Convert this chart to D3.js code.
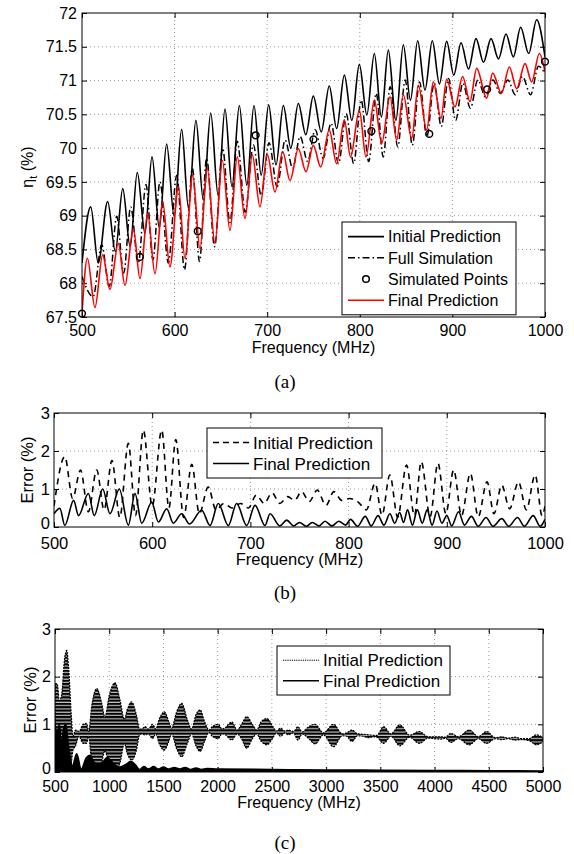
<!DOCTYPE html>
<html>
<head>
<meta charset="utf-8">
<script src="https://cdn.jsdelivr.net/npm/d3@7"></script>
<style>
  html, body { margin: 0; padding: 0; background: #fff; }
  svg { display: block; }
  svg text { font-family: "Liberation Sans", Arial, Helvetica, sans-serif; }
  svg text.cap { font-family: "Liberation Serif", "Times New Roman", serif; }
  .grid line { stroke: #9a9a9a; stroke-dasharray: 1,3; }
  .axis path { display: none; }
  .axis line { stroke: #000; }
  .axis text { fill: #000; }
</style>
</head>
<body>
<svg id="chart" width="574" height="854"></svg>
<script>
;(function(window, document, d3) {

    'use strict';

    // ---------------- (a) efficiency ----------------
    var initFreqA = [500, 509.4, 517.5, 527.7, 536, 544, 552, 559.7, 568, 575.6, 583.5, 591.4, 599.5, 607.6, 615, 623, 631, 639, 647, 654.4, 662, 669.9, 678, 685.7, 693.5, 701.6, 709.5, 717.4, 725.5, 733.6, 741.7, 749.8, 758.4, 767, 775, 783.3, 791.4, 799.5, 807.6, 815.7, 823.3, 830.8, 839, 847, 854.7, 862.5, 870.4, 878.3, 886, 893.8, 901.5, 909.3, 917.4, 925.5, 933.6, 941.7, 949.8, 957.9, 965.8, 973.7, 982.4, 991, 1000];
    var initValA = [68.3, 69.13, 68.30, 69.21, 68.47, 69.40, 68.54, 69.64, 68.74, 69.87, 68.82, 70.06, 68.99, 70.28, 69.11, 70.41, 69.23, 70.52, 69.30, 70.58, 69.43, 70.63, 69.45, 70.63, 69.60, 70.64, 69.75, 70.63, 70.0, 70.66, 70.2, 70.77, 70.24, 70.92, 70.29, 71.08, 70.41, 71.24, 70.49, 71.40, 70.46, 71.45, 70.41, 71.53, 70.71, 71.59, 70.86, 71.59, 70.95, 71.58, 71.08, 71.56, 71.17, 71.62, 71.27, 71.62, 71.32, 71.69, 71.35, 71.79, 71.40, 71.90, 71.35];

    var fullFreqA = [500, 512, 521.3, 529.4, 537.5, 545, 552.6, 560.8, 569.1, 576.6, 584.2, 593.2, 602.3, 610.7, 619.2, 626.9, 634.6, 643.2, 651.9, 659.8, 667.7, 676.3, 685, 693.5, 702, 710.7, 719.4, 727.5, 735.6, 743.7, 751.8, 760.4, 769, 777, 785.3, 793.4, 801.5, 809.6, 817.7, 825.3, 832.8, 841, 849, 856.7, 864.5, 872.4, 880.3, 888, 895.8, 903.5, 911.3, 919.4, 927.5, 935.6, 943.7, 951.8, 959.9, 967.8, 975.7, 984.4, 993, 1000];
    var fullValA = [68.1, 67.8, 68.57, 67.95, 68.99, 68.15, 69.13, 68.3, 69.46, 68.35, 69.5, 68.3, 69.6, 68.2, 69.70, 68.32, 69.85, 68.54, 70.0, 68.9, 70.1, 69.05, 70.05, 69.3, 70.08, 69.43, 70.12, 69.70, 70.17, 69.80, 70.27, 69.85, 70.37, 69.77, 70.51, 69.77, 70.71, 69.80, 70.81, 69.87, 70.91, 70.02, 71.01, 70.04, 70.98, 70.17, 70.96, 70.32, 71.03, 70.41, 70.96, 70.59, 71.01, 70.76, 71.01, 70.81, 71.01, 70.79, 71.06, 70.79, 71.21, 71.1];

    var finalFreqA = [500, 505.8, 514, 522.3, 530.2, 539.2, 546.4, 555.4, 562.6, 570.9, 578.8, 587.1, 595, 604, 611.2, 619.5, 627.4, 635.3, 643.6, 651.5, 659.8, 667.7, 676, 683.9, 692.2, 700.1, 708.4, 716.7, 724.6, 733.6, 741.9, 749.8, 757.8, 767, 775, 783.3, 790, 799.5, 806.7, 815.7, 823.6, 832.6, 839.8, 847, 856, 863.2, 872.2, 879.4, 887.7, 893.8, 902.8, 911, 919, 926.2, 937, 943.5, 953, 961.5, 969.4, 978.4, 985.6, 993.9, 1000];
    var finalValA = [67.55, 68.37, 67.64, 68.42, 67.91, 68.59, 67.97, 68.81, 68.07, 69.03, 68.14, 69.20, 68.24, 69.43, 68.37, 69.60, 68.51, 69.70, 68.59, 69.82, 68.78, 69.87, 68.96, 69.90, 69.13, 69.91, 69.35, 69.95, 69.52, 69.99, 69.65, 70.04, 69.72, 70.27, 69.77, 70.42, 69.87, 70.56, 69.87, 70.71, 70.07, 70.76, 70.12, 70.79, 70.14, 70.93, 70.27, 70.98, 70.44, 71.02, 70.61, 71.06, 70.69, 71.18, 70.74, 71.11, 70.81, 71.20, 70.88, 71.25, 70.98, 71.40, 71.13];

    var simFreqA = [500, 562.5, 625, 687.5, 750, 812.5, 875, 937.5, 1000];
    var simValA = [67.55, 68.39, 68.77, 70.19, 70.13, 70.25, 70.21, 70.87, 71.28];

    var xTicksA = [500, 600, 700, 800, 900, 1000];
    var yTicksA = [67.5, 68, 68.5, 69, 69.5, 70, 70.5, 71, 71.5, 72];

    // ---------------- (b) error 500-1000 ----------------
    var initFreqB = [500, 511, 519, 527, 535, 543.5, 551, 559, 567, 575.7, 583, 591, 600, 609.7, 617, 624, 632, 640.3, 648, 657, 665, 673, 681, 690, 698, 706, 714, 722, 730, 738, 745, 752, 760, 768, 777, 785, 793, 801, 810, 818, 827, 834, 842, 850, 859, 867, 874, 883, 891, 899, 907, 915, 924, 932, 941, 948, 956, 964, 973, 981, 990, 997, 1000];
    var initValB = [0.55, 1.85, 0.75, 1.5, 0.4, 1.5, 0.45, 1.75, 0.25, 2.2, 0.3, 2.55, 0.55, 2.55, 0.5, 2.3, 0.25, 1.65, 0.35, 1.05, 0.45, 0.62, 0.5, 0.62, 0.5, 0.84, 0.62, 0.9, 0.62, 0.8, 0.7, 0.93, 0.67, 0.97, 0.57, 0.93, 0.7, 0.75, 0.65, 0.45, 1.15, 0.31, 1.37, 0.26, 1.63, 0.3, 1.72, 0.27, 1.68, 0.35, 1.5, 0.3, 1.41, 0.27, 1.19, 0.35, 1.1, 0.48, 1.19, 0.45, 1.37, 0.3, 0.55];

    var finalFreqB = [500, 506, 511, 520, 525, 535, 541, 549.6, 557, 566.5, 575.7, 582.5, 589.3, 599.5, 606.3, 614.8, 621.5, 630, 638, 650.4, 658.9, 667.3, 677.5, 686, 696.2, 704.7, 714.9, 720, 730, 737, 744, 750, 757, 763, 770, 776, 783, 790, 797, 802, 809, 817, 823, 830, 836, 842, 847, 852, 856, 860, 865, 870, 875, 880, 885, 890, 895, 900, 905, 912, 918, 925, 932, 940, 947, 956, 963, 972, 979, 988, 995, 1000];
    var finalValB = [0.35, 0.49, 0.04, 0.7, 0.3, 0.88, 0.3, 1.0, 0.35, 1.0, 0.05, 0.88, 0.1, 0.65, 0.13, 0.48, 0.1, 0.35, 0.08, 0.44, 0.04, 0.62, 0.04, 0.62, 0.04, 0.57, 0.04, 0.35, 0.03, 0.18, 0.03, 0.12, 0.02, 0.12, 0.03, 0.15, 0.03, 0.15, 0.05, 0.2, 0.02, 0.28, 0.03, 0.3, 0.05, 0.35, 0.1, 0.38, 0.12, 0.45, 0.05, 0.45, 0.1, 0.45, 0.05, 0.42, 0.1, 0.3, 0.03, 0.4, 0.05, 0.28, 0.02, 0.25, 0.02, 0.22, 0.02, 0.25, 0.02, 0.3, 0.02, 0.2];

    var xTicksB = [500, 600, 700, 800, 900, 1000];
    var yTicksErr = [0, 1, 2, 3];

    // ---------------- (c) error 500-5000 (envelopes of the dense oscillation) ----------------
    var initFreqC = [500, 520, 540, 560, 590, 608, 625, 650, 665, 690, 720, 760, 790, 810, 840, 885, 930, 960, 1000, 1053, 1100, 1140, 1165, 1207, 1250, 1280, 1300, 1330, 1360, 1400, 1430, 1460, 1508, 1550, 1575, 1620, 1668, 1720, 1760, 1800, 1838, 1880, 1920, 1950, 2005, 2040, 2070, 2130, 2180, 2220, 2268, 2320, 2360, 2400, 2453, 2510, 2540, 2580, 2620, 2650, 2700, 2740, 2780, 2840, 2899, 2975, 3067, 3150, 3190, 3237, 3290, 3340, 3390, 3436, 3468, 3530, 3598, 3680, 3770, 3860, 3940, 4000, 4060, 4100, 4150, 4220, 4320, 4405, 4480, 4560, 4620, 4680, 4740, 4800, 4870, 4940, 5000];
    var initLoC = [0.0, 0.0, 0.05, 0.0, 0.0, 0.0, 0.05, 0.2, 0.45, 0.55, 0.75, 0.6, 0.6, 0.75, 0.2, 0.05, 0.2, 0.45, 0.15, 0.03, 0.2, 0.6, 0.4, 0.25, 0.45, 0.78, 0.8, 0.78, 0.8, 0.7, 0.8, 0.6, 0.46, 0.65, 0.8, 0.5, 0.32, 0.6, 0.8, 0.55, 0.43, 0.65, 0.83, 0.75, 0.7, 0.8, 0.78, 0.67, 0.8, 0.7, 0.5, 0.7, 0.8, 0.65, 0.57, 0.72, 0.82, 0.75, 0.82, 0.78, 0.82, 0.67, 0.8, 0.7, 0.59, 0.78, 0.53, 0.76, 0.75, 0.64, 0.76, 0.75, 0.72, 0.74, 0.73, 0.6, 0.75, 0.55, 0.73, 0.6, 0.71, 0.7, 0.69, 0.71, 0.62, 0.7, 0.57, 0.7, 0.6, 0.7, 0.68, 0.7, 0.67, 0.68, 0.66, 0.57, 0.64];
    var initHiC = [1.85, 1.85, 1.5, 1.6, 2.4, 2.55, 2.2, 1.2, 0.75, 0.88, 0.85, 1.0, 1.02, 0.85, 1.4, 1.75, 1.45, 1.15, 1.6, 1.87, 1.5, 1.1, 1.3, 1.47, 1.2, 0.9, 0.9, 0.95, 0.9, 1.0, 0.9, 1.1, 1.26, 1.05, 0.92, 1.25, 1.44, 1.1, 0.9, 1.2, 1.3, 1.05, 0.88, 0.95, 1.0, 0.9, 0.93, 1.05, 0.88, 1.0, 1.16, 1.0, 0.88, 1.05, 1.12, 0.95, 0.86, 0.92, 0.86, 0.88, 0.85, 0.95, 0.84, 0.95, 1.0, 0.82, 1.0, 0.8, 0.82, 0.88, 0.8, 0.79, 0.78, 0.77, 0.77, 0.95, 0.8, 0.99, 0.77, 0.85, 0.74, 0.74, 0.74, 0.73, 0.81, 0.74, 0.88, 0.74, 0.85, 0.72, 0.74, 0.71, 0.73, 0.7, 0.7, 0.78, 0.72];

    var finalFreqC = [500, 520, 540, 560, 580, 600, 620, 640, 660, 700, 740, 790, 820, 860, 900, 940, 980, 1010, 1050, 1100, 1150, 1200, 1240, 1280, 1320, 1360, 1410, 1450, 1500, 1550, 1600, 1650, 1700, 1750, 1800, 1850, 1900, 2000, 2500, 3000, 3500, 4000, 4500, 5000];
    var finalHiC = [1.0, 0.8, 1.0, 0.5, 0.9, 1.0, 0.6, 0.3, 0.1, 0.38, 0.05, 0.3, 0.35, 0.2, 0.15, 0.2, 0.3, 0.25, 0.15, 0.1, 0.15, 0.22, 0.15, 0.05, 0.11, 0.06, 0.11, 0.06, 0.1, 0.06, 0.09, 0.06, 0.09, 0.05, 0.08, 0.05, 0.07, 0.06, 0.05, 0.04, 0.035, 0.03, 0.025, 0.02];

    var xTicksC = [500, 1000, 1500, 2000, 2500, 3000, 3500, 4000, 4500, 5000];

    var svg = d3.select('#chart');
    var defs = svg.append('defs');

    var stripes = defs.append('pattern')
        .attr('id', 'stripes')
        .attr('patternUnits', 'userSpaceOnUse')
        .attr('width', 4).attr('height', 3.3);
    stripes.append('rect').attr('width', 4).attr('height', 3.3).attr('fill', '#000');
    stripes.append('rect').attr('y', 2.2).attr('width', 4).attr('height', 0.9).attr('fill', '#fff');

    function zip(f, v) {
        return f.map(function(d, i) { return [d, v[i]]; });
    }

    /** draw grid, ticks and labels of one panel */
    function frame(cfg) {
        var g = svg.append('g');
        var x = cfg.x, y = cfg.y;
        var x0 = x.range()[0], x1 = x.range()[1];
        var y0 = y.range()[0], y1 = y.range()[1];

        var grid = g.append('g').attr('class', 'grid');
        grid.selectAll('.gx').data(cfg.xTicks.slice(1, -1)).enter().append('line')
            .attr('x1', function(d) { return x(d); }).attr('x2', function(d) { return x(d); })
            .attr('y1', y0).attr('y2', y1);
        grid.selectAll('.gy').data(cfg.yTicks.slice(1, -1)).enter().append('line')
            .attr('y1', function(d) { return y(d); }).attr('y2', function(d) { return y(d); })
            .attr('x1', x0).attr('x2', x1);

        var fmt = function(d) { return d; };
        var fs = cfg.fontSize + 'px';

        g.append('g').attr('class', 'axis')
            .attr('transform', 'translate(0,' + y0 + ')')
            .call(d3.axisBottom(x).tickValues(cfg.xTicks).tickFormat(fmt)
                .tickSize(-5).tickSizeOuter(0).tickPadding(cfg.xPad))
            .selectAll('text').style('font-size', fs);
        g.append('g').attr('class', 'axis')
            .attr('transform', 'translate(0,' + y1 + ')')
            .call(d3.axisTop(x).tickValues(cfg.xTicks).tickFormat('')
                .tickSize(-5).tickSizeOuter(0));
        g.append('g').attr('class', 'axis')
            .attr('transform', 'translate(' + x0 + ',0)')
            .call(d3.axisLeft(y).tickValues(cfg.yTicks).tickFormat(fmt)
                .tickSize(-5).tickSizeOuter(0).tickPadding(cfg.yPad))
            .selectAll('text').style('font-size', fs)
            // the lowest label sits just above the x labels, as in the reference
            .attr('dy', function(d) { return d === cfg.yTicks[0] && cfg.lift ? '0.12em' : '0.32em'; });
        g.append('g').attr('class', 'axis')
            .attr('transform', 'translate(' + x1 + ',0)')
            .call(d3.axisRight(y).tickValues(cfg.yTicks).tickFormat('')
                .tickSize(-5).tickSizeOuter(0));

        g.append('text')
            .attr('x', (x0 + x1) / 2).attr('y', cfg.xLabelY)
            .attr('text-anchor', 'middle').style('font-size', fs)
            .text('Frequency (MHz)');

        svg.append('text').attr('class', 'cap')
            .attr('x', cfg.capX).attr('y', cfg.capY)
            .attr('text-anchor', 'middle')
            .style('font-size', '19px')
            .text(cfg.caption);

        defs.append('clipPath').attr('id', cfg.id)
            .append('rect').attr('x', x0).attr('y', y1)
            .attr('width', x1 - x0).attr('height', y0 - y1);

        return g;
    }

    function box(cfg) {
        svg.append('rect')
            .attr('x', cfg.x.range()[0]).attr('y', cfg.y.range()[1])
            .attr('width', cfg.x.range()[1] - cfg.x.range()[0])
            .attr('height', cfg.y.range()[0] - cfg.y.range()[1])
            .attr('fill', 'none').attr('stroke', '#000').attr('stroke-width', 1);
    }

    function legend(lx, ly, w, rowH, items, fontSize) {
        var g = svg.append('g');
        g.append('rect').attr('x', lx).attr('y', ly)
            .attr('width', w).attr('height', rowH * items.length + 8)
            .attr('fill', '#fff').attr('stroke', '#000').attr('stroke-width', 1);
        items.forEach(function(it, i) {
            var cy = ly + 4 + rowH * (i + 0.5);
            if (it.marker) {
                g.append('circle').attr('cx', lx + 24).attr('cy', cy).attr('r', 3.3)
                    .attr('fill', 'none').attr('stroke', '#000').attr('stroke-width', 1.5);
            } else {
                g.append('line').attr('x1', lx + 6).attr('x2', lx + 42)
                    .attr('y1', cy).attr('y2', cy)
                    .attr('stroke', it.color).attr('stroke-width', it.width)
                    .attr('stroke-dasharray', it.dash || null);
            }
            g.append('text').attr('x', lx + 46).attr('y', cy)
                .attr('dy', '0.36em').style('font-size', fontSize + 'px')
                .text(it.label);
        });
    }

    // ================ (a) ================
    var cfgA = {
        id: 'clipA',
        x: d3.scaleLinear().domain([500, 1000]).range([82, 545]),
        y: d3.scaleLinear().domain([67.5, 72]).range([317, 13]),
        xTicks: xTicksA, yTicks: yTicksA,
        fontSize: 16, xPad: 8, yPad: 5, lift: false,
        xLabelY: 353, caption: '(a)', capX: 285, capY: 388
    };
    frame(cfgA);

    var lineA = d3.line()
        .curve(d3.curveMonotoneX)
        .x(function(d) { return cfgA.x(d[0]); })
        .y(function(d) { return cfgA.y(d[1]); });

    var plotA = svg.append('g').attr('clip-path', 'url(#clipA)');
    plotA.append('path').datum(zip(initFreqA, initValA))
        .attr('d', lineA).attr('fill', 'none').attr('stroke', '#000').attr('stroke-width', 1.6);
    plotA.append('path').datum(zip(fullFreqA, fullValA))
        .attr('d', lineA).attr('fill', 'none').attr('stroke', '#000').attr('stroke-width', 1.5)
        .attr('stroke-dasharray', '7,3,1.5,3');
    plotA.append('path').datum(zip(finalFreqA, finalValA))
        .attr('d', lineA).attr('fill', 'none').attr('stroke', '#ff0000').attr('stroke-width', 1.6);
    box(cfgA);
    svg.append('g').selectAll('circle').data(zip(simFreqA, simValA)).enter().append('circle')
        .attr('cx', function(d) { return cfgA.x(d[0]); })
        .attr('cy', function(d) { return cfgA.y(d[1]); })
        .attr('r', 3.4).attr('fill', 'none').attr('stroke', '#000').attr('stroke-width', 1.5);

    svg.append('text')
        .attr('transform', 'translate(33,167) rotate(-90)')
        .attr('text-anchor', 'middle').style('font-size', '16px')
        .call(function(t) {
            t.append('tspan').text('\u03b7');
            t.append('tspan').attr('dy', 4).style('font-size', '11px').text('t');
            t.append('tspan').attr('dy', -4).text(' (%)');
        });

    legend(342, 222, 174, 21.2, [
        { label: 'Initial Prediction', color: '#000', width: 1.6 },
        { label: 'Full Simulation', color: '#000', width: 1.5, dash: '7,3,1.5,3' },
        { label: 'Simulated Points', marker: true },
        { label: 'Final Prediction', color: '#ff0000', width: 1.6 }
    ], 16);

    // ================ (b) ================
    var cfgB = {
        id: 'clipB',
        x: d3.scaleLinear().domain([500, 1000]).range([54, 545]),
        y: d3.scaleLinear().domain([0, 3]).range([527, 413]),
        xTicks: xTicksB, yTicks: yTicksErr,
        fontSize: 16.5, xPad: 10, yPad: 4, lift: true,
        xLabelY: 565, caption: '(b)', capX: 285, capY: 599
    };
    frame(cfgB);

    var lineB = d3.line()
        .curve(d3.curveMonotoneX)
        .x(function(d) { return cfgB.x(d[0]); })
        .y(function(d) { return cfgB.y(d[1]); });

    var plotB = svg.append('g').attr('clip-path', 'url(#clipB)');
    plotB.append('path').datum(zip(initFreqB, initValB))
        .attr('d', lineB).attr('fill', 'none').attr('stroke', '#000').attr('stroke-width', 1.6)
        .attr('stroke-dasharray', '6,5');
    plotB.append('path').datum(zip(finalFreqB, finalValB))
        .attr('d', lineB).attr('fill', 'none').attr('stroke', '#000').attr('stroke-width', 1.6);
    box(cfgB);

    svg.append('text')
        .attr('transform', 'translate(33,470) rotate(-90)')
        .attr('text-anchor', 'middle').style('font-size', '16.5px')
        .text('Error (%)');

    legend(207, 428, 175, 21, [
        { label: 'Initial Prediction', color: '#000', width: 1.6, dash: '6,4' },
        { label: 'Final Prediction', color: '#000', width: 1.6 }
    ], 17);

    // ================ (c) ================
    var cfgC = {
        id: 'clipC',
        x: d3.scaleLinear().domain([500, 5000]).range([55, 543]),
        y: d3.scaleLinear().domain([0, 3]).range([772, 629]),
        xTicks: xTicksC, yTicks: yTicksErr,
        fontSize: 16, xPad: 9, yPad: 4, lift: true,
        xLabelY: 808, caption: '(c)', capX: 285, capY: 849
    };
    frame(cfgC);

    var areaInitC = d3.area()
        .curve(d3.curveMonotoneX)
        .x(function(d) { return cfgC.x(d[0]); })
        .y0(function(d) { return cfgC.y(d[1]); })
        .y1(function(d) { return cfgC.y(d[2]); });
    var areaFinalC = d3.area()
        .curve(d3.curveMonotoneX)
        .x(function(d) { return cfgC.x(d[0]); })
        .y0(cfgC.y(0))
        .y1(function(d) { return cfgC.y(d[1]); });

    var plotC = svg.append('g').attr('clip-path', 'url(#clipC)');
    plotC.append('path')
        .datum(initFreqC.map(function(f, i) { return [f, initLoC[i], initHiC[i]]; }))
        .attr('d', areaInitC).attr('fill', 'url(#stripes)')
        .attr('stroke', '#000').attr('stroke-width', 1.2).attr('stroke-dasharray', '2,1');
    plotC.append('path').datum(zip(finalFreqC, finalHiC))
        .attr('d', areaFinalC).attr('fill', '#000')
        .attr('stroke', '#000').attr('stroke-width', 1.8);
    box(cfgC);

    svg.append('text')
        .attr('transform', 'translate(36,700) rotate(-90)')
        .attr('text-anchor', 'middle').style('font-size', '16.5px')
        .text('Error (%)');

    legend(277, 646, 173, 20.5, [
        { label: 'Initial Prediction', color: '#000', width: 1.2, dash: '1.2,1' },
        { label: 'Final Prediction', color: '#000', width: 1.6 }
    ], 17);

}(window, document, window.d3));
</script>
</body>
</html>
